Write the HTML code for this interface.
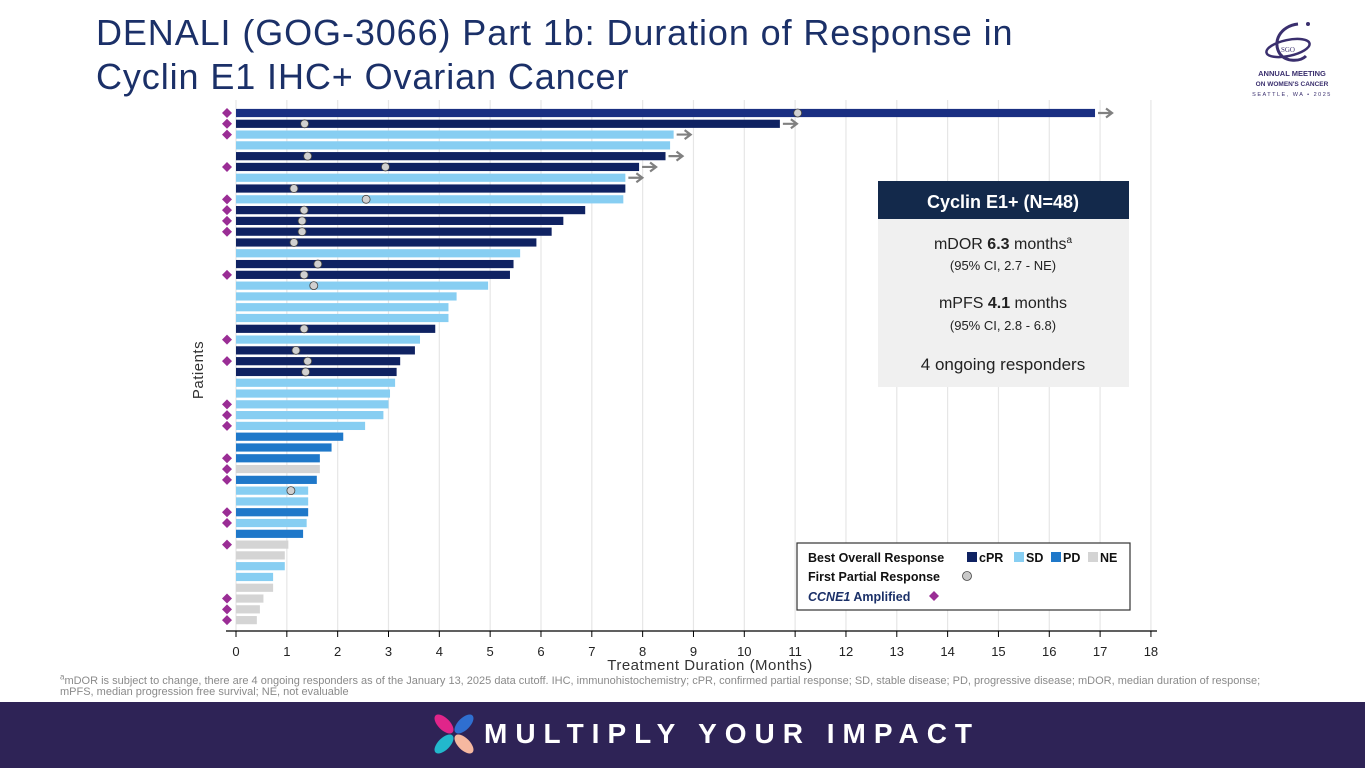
<!DOCTYPE html>
<html><head><meta charset="utf-8">
<style>
html,body{margin:0;padding:0;}
body{width:1365px;height:768px;position:relative;overflow:hidden;background:#fff;font-family:"Liberation Sans",sans-serif;}
#title{position:absolute;left:96px;top:11px;font-size:36px;line-height:44px;color:#1b3068;letter-spacing:0.9px;white-space:nowrap;}
#logo{position:absolute;left:1250px;top:12px;width:115px;height:90px;}
#foot-note{position:absolute;left:60px;top:676px;width:1255px;font-size:11px;line-height:10.5px;color:#8a8a8a;}
#band{position:absolute;left:0;top:702px;width:1365px;height:66px;background:#2e2356;}
#band-text{position:absolute;left:484px;top:17px;font-size:28px;line-height:30px;font-weight:bold;color:#fff;letter-spacing:8px;white-space:nowrap;}
svg#chart{position:absolute;left:0;top:0;}
</style></head>
<body>
<div id="title">DENALI (GOG-3066) Part 1b: Duration of Response in<br>Cyclin E1 IHC+ Ovarian Cancer</div>
<svg id="logo" viewBox="0 0 115 90">
<ellipse cx="38" cy="36" rx="22" ry="8" fill="none" stroke="#3a2f6e" stroke-width="2.5" transform="rotate(-12 38 36)"/>
<path d="M48 12 C30 14 22 30 30 42 C36 50 50 50 56 44" fill="none" stroke="#3a2f6e" stroke-width="3"/>
<circle cx="58" cy="12" r="2" fill="#3a2f6e"/>
<text x="38" y="40" font-size="7" font-family="Liberation Serif" fill="#3a2f6e" text-anchor="middle">SGO</text>
<text x="42" y="64" font-size="7.5" font-weight="bold" fill="#3a2f6e" text-anchor="middle">ANNUAL MEETING</text>
<text x="42" y="74" font-size="6.5" font-weight="bold" fill="#3a2f6e" text-anchor="middle">ON WOMEN'S CANCER</text>
<text x="42" y="84" font-size="5.5" fill="#3a2f6e" text-anchor="middle" letter-spacing="1.5">SEATTLE, WA • 2025</text>
</svg>
<svg id="chart" width="1365" height="700"></svg>
<div id="foot-note"><sup style="font-size:8px;line-height:0">a</sup>mDOR is subject to change, there are 4 ongoing responders as of the January 13, 2025 data cutoff. IHC, immunohistochemistry; cPR, confirmed partial response; SD, stable disease; PD, progressive disease; mDOR, median duration of response;<br>mPFS, median progression free survival; NE, not evaluable</div>
<div id="band">
<svg style="position:absolute;left:432px;top:10px" width="44" height="44">
<ellipse cx="12" cy="12" rx="6" ry="12" transform="rotate(-45 12 12)" fill="#e0258a"/>
<ellipse cx="32" cy="12" rx="6" ry="12" transform="rotate(45 32 12)" fill="#2f6fd0"/>
<ellipse cx="12" cy="32" rx="6" ry="12" transform="rotate(45 12 32)" fill="#22b8cc"/>
<ellipse cx="32" cy="32" rx="6" ry="12" transform="rotate(-45 32 32)" fill="#f6b8a0"/>
</svg>
<div id="band-text">MULTIPLY YOUR IMPACT</div>
</div>
<script>
const durations=[16.9,10.7,8.61,8.54,8.45,7.93,7.66,7.66,7.62,6.87,6.44,6.21,5.91,5.59,5.46,5.39,4.96,4.34,4.18,4.18,3.92,3.62,3.52,3.23,3.16,3.13,3.03,3.0,2.90,2.54,2.11,1.88,1.65,1.65,1.59,1.42,1.42,1.42,1.39,1.32,1.03,0.96,0.96,0.73,0.73,0.54,0.47,0.41];
const responses=["cPR","cPR","SD","SD","cPR","cPR","SD","cPR","SD","cPR","cPR","cPR","cPR","SD","cPR","cPR","SD","SD","SD","SD","cPR","SD","cPR","cPR","cPR","SD","SD","SD","SD","SD","PD","PD","PD","NE","PD","SD","SD","PD","SD","PD","NE","NE","SD","SD","NE","NE","NE","NE"];
const firstResponse=[11.05,1.35,null,null,1.41,2.94,null,1.14,2.56,1.34,1.30,1.30,1.14,null,1.61,1.34,1.53,null,null,null,1.34,null,1.18,1.41,1.37,null,null,null,null,null,null,null,null,null,null,1.08,null,null,null,null,null,null,null,null,null,null,null,null];
const amplified=[1,1,1,0,0,1,0,0,1,1,1,1,0,0,0,1,0,0,0,0,0,1,0,1,0,0,0,1,1,1,0,0,1,1,1,0,0,1,1,0,1,0,0,0,0,1,1,1];
const ongoing=[1,1,1,0,1,1,1,0,0,0,0,0,0,0,0,0,0,0,0,0,0,0,0,0,0,0,0,0,0,0,0,0,0,0,0,0,0,0,0,0,0,0,0,0,0,0,0,0];
const xTicks=[0,1,2,3,4,5,6,7,8,9,10,11,12,13,14,15,16,17,18];
const colors={cPR:"#0f2262",SD:"#87cef2",PD:"#1f78c9",NE:"#d4d4d4"};
const NS="http://www.w3.org/2000/svg";
const svg=document.getElementById('chart');
const x0=236,xPer=50.83,y0=113,rowH=10.79,barH=8.2;
const xs=v=>x0+v*xPer;
const ys=i=>y0+i*rowH;
function mk(tag,attrs,parent){const e=document.createElementNS(NS,tag);for(const k in attrs)e.setAttribute(k,attrs[k]);(parent||svg).appendChild(e);return e;}
xTicks.forEach(t=>{
 const g=mk('line',{x1:xs(t),x2:xs(t),y1:100,y2:631,stroke:'#e6e6e6','stroke-width':1.2});
 
 
 const tk=mk('line',{x1:xs(t),x2:xs(t),y1:631,y2:637,stroke:'#000','stroke-width':1});
 
 
 const tl=mk('text',{x:xs(t),y:656,'font-size':13,'text-anchor':'middle',fill:'#222'});
 tl.textContent=t;
 
 
});
const ax=mk('line',{x1:226,x2:1157,y1:631,y2:631,stroke:'#000','stroke-width':1.3});


const xt=mk('text',{x:710,y:670,'font-size':15,'text-anchor':'middle',fill:'#333','letter-spacing':'0.5'});
xt.textContent='Treatment Duration (Months)';


const yt=mk('text',{x:203,y:370,'font-size':15,'text-anchor':'middle',fill:'#333',transform:'rotate(-90 203 370)','letter-spacing':'0.5'});
yt.textContent='Patients';


durations.forEach((d,i)=>{
 const cy=ys(i);
 const b=mk('rect',{x:x0,y:cy-barH/2,width:xs(d)-x0,height:barH,fill:i===0?'#1a2f82':colors[responses[i]]});
 
 
 if(ongoing[i]){
  const ex=xs(d)+3;
  const a=mk('path',{d:`M${ex} ${cy} H${ex+14} M${ex+8} ${cy-4.5} L${ex+14} ${cy} L${ex+8} ${cy+4.5}`,stroke:'#808080','stroke-width':2.2,fill:'none'});
  
  
 }
 if(firstResponse[i]!==null){
  const c=mk('circle',{cx:xs(firstResponse[i]),cy:cy,r:4,fill:'#d0d0d0',stroke:'#444','stroke-width':0.8});
  
  
 }
 if(amplified[i]){
  const dx=227;
  const dm=mk('path',{d:`M${dx} ${cy-5} L${dx+5} ${cy} L${dx} ${cy+5} L${dx-5} ${cy} Z`,fill:'#9a2d95'});
  
  
 }
});
const ib=mk('g',{});


mk('rect',{x:878,y:219,width:251,height:168,fill:'#f0f0f0'},ib);
mk('rect',{x:878,y:181,width:251,height:38,fill:'#13294b'},ib);
const F='font-family:"Liberation Sans","DejaVu Sans",sans-serif';
function tx(x,y,html,size,fill,weight,p){const t=mk('text',{x:x,y:y,'font-size':size,'text-anchor':'middle',fill:fill,'font-weight':weight||'normal',style:F},p||ib);t.innerHTML=html;return t;}
tx(1003,208,'Cyclin E1+ (N=48)',18,'#fff','bold');
tx(1003,249,'mDOR <tspan font-weight="bold">6.3</tspan> months<tspan font-size="10" dy="-6">a</tspan>',16,'#222');
tx(1003,270,'(95% CI, 2.7 - NE)',13,'#222');
tx(1003,308,'mPFS <tspan font-weight="bold">4.1</tspan> months',16,'#222');
tx(1003,330,'(95% CI, 2.8 - 6.8)',13,'#222');
tx(1003,370,'4 ongoing responders',17,'#222');
const lg=mk('g',{});


mk('rect',{x:797,y:543,width:333,height:67,fill:'#fff',stroke:'#333','stroke-width':1.2},lg);
function lt(x,y,s,fill){const t=mk('text',{x:x,y:y,'font-size':12.5,'font-weight':'bold',fill:fill||'#111',style:F},lg);t.innerHTML=s;return t;}
lt(808,562,'Best Overall Response');
[['cPR',967,'#0f2262'],['SD',1014,'#87cef2'],['PD',1051,'#1f78c9'],['NE',1088,'#d4d4d4']].forEach(([n,x,c])=>{
 const r=mk('rect',{x:x,y:552,width:10,height:10,fill:c},lg);
 
 
 lt(x+12,562,n);
});
lt(808,581,'First Partial Response');
mk('circle',{cx:967,cy:576,r:4.5,fill:'#c8c8c8',stroke:'#444','stroke-width':0.8},lg);
lt(808,601,'<tspan font-style="italic">CCNE1</tspan> Amplified','#1b3068');
mk('path',{d:'M934 591 L939 596 L934 601 L929 596 Z',fill:'#9a2d95'},lg);
</script>
</body></html>
